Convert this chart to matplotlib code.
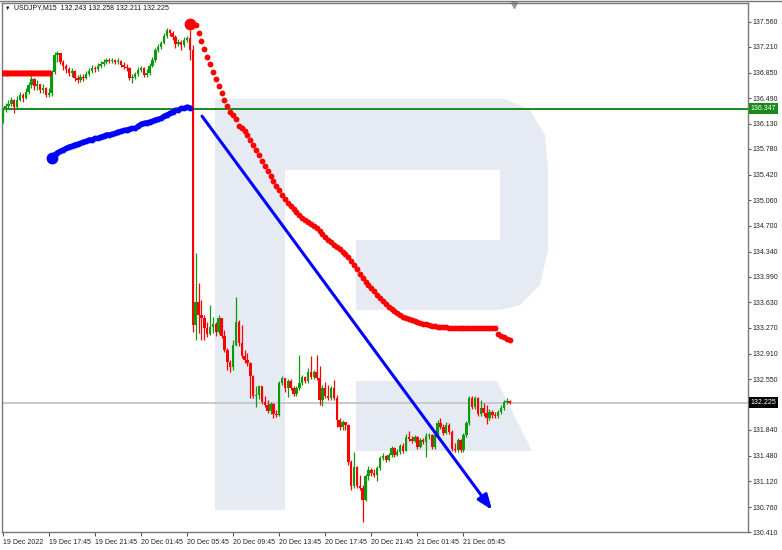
import matplotlib
matplotlib.use("Agg")
import matplotlib.pyplot as plt
from matplotlib.patches import Polygon
from matplotlib.lines import Line2D

# ---------------- data ----------------
symbol_title = "USDJPY,M15  132.243 132.258 132.211 132.225"

opens = [136.17, 136.33, 136.38, 136.41, 136.47, 136.37, 136.47, 136.54, 136.49, 136.58,
         136.68, 136.76, 136.66, 136.69, 136.61, 136.63, 136.54, 136.56, 136.86, 137.10,
         137.13, 137.00, 136.94, 136.90, 136.85, 136.87, 136.77, 136.75, 136.79, 136.77,
         136.83, 136.87, 136.92, 136.90, 136.94, 136.97, 137.00, 137.03, 137.01, 137.03,
         137.00, 137.01, 136.96, 136.93, 136.92, 136.77, 136.79, 136.83, 136.89, 136.92,
         136.82, 136.85, 136.94, 137.03, 137.17, 137.21, 137.27, 137.36, 137.45, 137.40,
         137.35, 137.25, 137.28, 137.24, 137.31, 137.34, 137.17, 133.31, 133.63, 133.45,
         133.41, 133.27, 133.19, 133.28, 133.33, 133.21, 133.41, 133.16, 132.96, 132.79,
         132.72, 133.03, 133.35, 133.06, 132.88, 132.82, 132.78, 132.60, 132.32, 132.33,
         132.45, 132.23, 132.19, 132.11, 132.20, 132.06, 132.05, 132.50, 132.57, 132.43,
         132.53, 132.43, 132.34, 132.43, 132.50, 132.58, 132.53, 132.65, 132.58, 132.65,
         132.57, 132.26, 132.43, 132.32, 132.29, 132.43, 132.29, 131.98, 131.88, 131.95,
         131.91, 131.39, 131.05, 131.32, 131.05, 131.03, 130.86, 131.20, 131.28, 131.24,
         131.21, 131.31, 131.45, 131.48, 131.42, 131.49, 131.59, 131.49, 131.53, 131.62,
         131.55, 131.74, 131.71, 131.69, 131.74, 131.60, 131.70, 131.67, 131.76, 131.77,
         131.60, 131.77, 131.94, 131.88, 131.80, 131.91, 131.81, 131.57, 131.56, 131.70,
         131.56, 131.77, 131.94, 132.29, 132.16, 132.29, 132.06, 132.15, 132.08, 132.01,
         132.09, 132.05, 132.04, 132.09, 132.15, 132.23, 132.243]

closes = [136.33, 136.38, 136.41, 136.47, 136.37, 136.47, 136.54, 136.49, 136.58, 136.68,
          136.76, 136.66, 136.69, 136.61, 136.63, 136.54, 136.56, 136.86, 137.10, 137.13,
          137.00, 136.94, 136.90, 136.85, 136.87, 136.77, 136.75, 136.79, 136.77, 136.83,
          136.87, 136.92, 136.90, 136.94, 136.97, 137.00, 137.03, 137.01, 137.03, 137.00,
          137.01, 136.96, 136.93, 136.92, 136.77, 136.79, 136.83, 136.89, 136.92, 136.82,
          136.85, 136.94, 137.03, 137.17, 137.21, 137.27, 137.36, 137.45, 137.40, 137.35,
          137.25, 137.28, 137.24, 137.31, 137.34, 137.17, 133.31, 133.63, 133.45, 133.41,
          133.27, 133.19, 133.28, 133.33, 133.21, 133.41, 133.16, 132.96, 132.79, 132.72,
          133.03, 133.35, 133.06, 132.88, 132.82, 132.78, 132.60, 132.32, 132.33, 132.45,
          132.23, 132.19, 132.11, 132.20, 132.06, 132.05, 132.50, 132.57, 132.43, 132.53,
          132.43, 132.34, 132.43, 132.50, 132.58, 132.53, 132.65, 132.58, 132.65, 132.57,
          132.26, 132.43, 132.32, 132.29, 132.43, 132.29, 131.98, 131.88, 131.95, 131.91,
          131.39, 131.05, 131.32, 131.05, 131.03, 130.86, 131.20, 131.28, 131.24, 131.21,
          131.31, 131.45, 131.48, 131.42, 131.49, 131.59, 131.49, 131.53, 131.62, 131.55,
          131.74, 131.71, 131.69, 131.74, 131.60, 131.70, 131.67, 131.76, 131.77, 131.60,
          131.77, 131.94, 131.88, 131.80, 131.91, 131.81, 131.57, 131.56, 131.70, 131.56,
          131.77, 131.94, 132.29, 132.16, 132.29, 132.06, 132.15, 132.08, 132.01, 132.09,
          132.05, 132.04, 132.09, 132.15, 132.23, 132.243, 132.225]

highs = [136.37, 136.42, 136.47, 136.51, 136.48, 136.52, 136.58, 136.56, 136.63, 136.72,
         136.80, 136.77, 136.75, 136.69, 136.69, 136.65, 136.63, 136.89, 137.14, 137.15,
         137.13, 137.03, 136.97, 136.93, 136.92, 136.89, 136.82, 136.83, 136.83, 136.87,
         136.92, 136.96, 136.94, 136.99, 137.01, 137.04, 137.06, 137.06, 137.06, 137.04,
         137.06, 137.03, 137.00, 136.97, 136.93, 136.83, 136.86, 136.93, 136.94, 136.93,
         136.90, 136.99, 137.07, 137.20, 137.25, 137.29, 137.40, 137.48, 137.46, 137.43,
         137.38, 137.32, 137.31, 137.35, 137.36, 137.45, 137.24, 134.32, 133.90, 133.66,
         133.45, 133.35, 133.59, 133.42, 133.35, 133.45, 133.41, 133.24, 132.99, 132.82,
         133.10, 133.70, 133.38, 133.31, 132.96, 132.92, 132.79, 132.61, 132.46, 132.47,
         132.46, 132.32, 132.26, 132.23, 132.22, 132.12, 132.53, 132.60, 132.57, 132.55,
         132.55, 132.46, 132.46, 132.89, 132.61, 132.60, 132.71, 132.88, 132.68, 132.89,
         132.74, 132.47, 132.51, 132.47, 132.46, 132.54, 132.33, 132.01, 131.98, 131.94,
         131.93, 131.42, 131.53, 131.34, 131.21, 131.07, 131.22, 131.34, 131.31, 131.29,
         131.34, 131.48, 131.52, 131.49, 131.52, 131.62, 131.60, 131.57, 131.64, 131.66,
         131.79, 131.83, 131.76, 131.77, 131.76, 131.73, 131.73, 131.80, 131.80, 131.79,
         131.80, 131.98, 132.01, 131.93, 131.95, 131.94, 131.84, 131.66, 131.73, 131.71,
         131.80, 131.97, 132.32, 132.32, 132.32, 132.30, 132.26, 132.22, 132.19, 132.13,
         132.12, 132.09, 132.12, 132.19, 132.26, 132.29, 132.258]

lows = [136.14, 136.30, 136.35, 136.38, 136.28, 136.35, 136.45, 136.44, 136.48, 136.55,
        136.63, 136.61, 136.61, 136.56, 136.56, 136.51, 136.51, 136.52, 136.83, 137.00,
        136.97, 136.89, 136.85, 136.80, 136.79, 136.73, 136.70, 136.72, 136.73, 136.76,
        136.80, 136.85, 136.86, 136.87, 136.92, 136.94, 136.97, 136.99, 136.99, 136.97,
        136.97, 136.93, 136.90, 136.87, 136.75, 136.70, 136.76, 136.80, 136.86, 136.79,
        136.79, 136.82, 136.93, 137.00, 137.14, 137.18, 137.25, 137.34, 137.36, 137.31,
        137.20, 137.22, 137.17, 137.21, 137.28, 137.03, 133.21, 133.10, 133.20, 133.10,
        133.10, 133.14, 133.17, 133.20, 133.16, 133.19, 133.13, 132.93, 132.68, 132.65,
        132.68, 133.02, 133.02, 132.85, 132.78, 132.74, 132.29, 132.29, 132.16, 132.27,
        132.20, 132.16, 132.08, 132.06, 132.01, 132.02, 132.04, 132.47, 132.37, 132.30,
        132.40, 132.32, 132.32, 132.40, 132.47, 132.50, 132.50, 132.55, 132.55, 132.54,
        132.19, 132.18, 132.29, 132.26, 132.26, 132.26, 131.88, 131.84, 131.84, 131.84,
        131.35, 131.00, 131.03, 131.03, 131.00, 130.55, 130.84, 131.14, 131.20, 131.18,
        131.12, 131.28, 131.42, 131.39, 131.41, 131.46, 131.46, 131.48, 131.50, 131.52,
        131.55, 131.69, 131.66, 131.67, 131.57, 131.59, 131.64, 131.46, 131.71, 131.57,
        131.57, 131.74, 131.85, 131.77, 131.79, 131.79, 131.55, 131.53, 131.53, 131.53,
        131.53, 131.74, 131.91, 132.13, 132.13, 132.04, 132.04, 132.04, 131.93, 131.98,
        132.01, 132.01, 132.01, 132.06, 132.12, 132.20, 132.211]

# red level line on the left (bars 0..16)
red_level_bars = list(range(0, 17))
red_level_value = 136.85

# blue indicator curve (bars 17..65)
blue_start_bar = 17
blue_curve = [135.65, 135.70, 135.73, 135.75, 135.77, 135.79, 135.81, 135.82, 135.84, 135.85,
              135.86, 135.88, 135.89, 135.91, 135.91, 135.93, 135.93, 135.95, 135.96, 135.98,
              135.98, 135.99, 136.00, 136.02, 136.03, 136.04, 136.05, 136.06, 136.07, 136.07,
              136.10, 136.13, 136.14, 136.15, 136.16, 136.17, 136.19, 136.20, 136.21, 136.24,
              136.26, 136.28, 136.30, 136.32, 136.33, 136.35, 136.35, 136.37, 136.36]

# red dotted indicator curve (bars 65..176)
red_start_bar = 65
red_curve = [137.53, 137.53, 137.52, 137.40, 137.29, 137.18, 137.07, 136.97, 136.86, 136.76,
             136.66, 136.56, 136.47, 136.38, 136.30, 136.26, 136.20, 136.10, 136.07, 136.03,
             135.98, 135.91, 135.84, 135.77, 135.70, 135.61, 135.54, 135.47, 135.40, 135.33,
             135.26, 135.20, 135.13, 135.08, 135.02, 134.98, 134.94, 134.90, 134.85, 134.81,
             134.78, 134.76, 134.73, 134.70, 134.67, 134.63, 134.59, 134.54, 134.50, 134.47,
             134.44, 134.41, 134.38, 134.34, 134.31, 134.27, 134.21, 134.15, 134.10, 134.03,
             133.97, 133.91, 133.87, 133.83, 133.79, 133.73, 133.69, 133.65, 133.61, 133.56,
             133.54, 133.51, 133.48, 133.45, 133.42, 133.41, 133.40, 133.38, 133.37, 133.35,
             133.34, 133.33, 133.32, 133.31, 133.30, 133.30, 133.29, 133.28, 133.28, 133.28,
             133.27, 133.27, 133.27, 133.27, 133.27, 133.27, 133.27, 133.27, 133.27, 133.27,
             133.27, 133.27, 133.27, 133.27, 133.27, 133.27, 133.27, 133.19, 133.16, 133.14,
             133.12, 133.10]

# trend arrow (bar index, price)
trend_bars = [69.2, 169.9]
trend_prices = [136.24, 130.72]

green_level = 136.347
current_price = 132.225

y_ticks = [137.560, 137.210, 136.850, 136.490, 136.130, 135.780, 135.420, 135.060, 134.700,
           134.340, 133.990, 133.630, 133.270, 132.910, 132.550, 131.840, 131.480, 131.120,
           130.760, 130.410]
x_tick_bars = [0, 16, 32, 48, 64, 80, 96, 112, 128, 144, 160]
x_tick_labels = ["19 Dec 2022", "19 Dec 17:45", "19 Dec 21:45", "20 Dec 01:45", "20 Dec 05:45",
                 "20 Dec 09:45", "20 Dec 13:45", "20 Dec 17:45", "20 Dec 21:45", "21 Dec 01:45",
                 "21 Dec 05:45"]

# ---------------- styling ----------------
plt.rcParams['font.family'] = ['Liberation Sans', 'DejaVu Sans']
UP = '#0A9A0A'
DN = '#FF0000'
FS = 5.0

W, H = 782, 550
fig = plt.figure(figsize=(W / 100, H / 100), dpi=100)
fig.patch.set_facecolor('white')

# watermark layer (pixel space)
bg = fig.add_axes([0, 0, 1, 1], zorder=0)
bg.set_xlim(0, W)
bg.set_ylim(H, 0)
bg.axis('off')
wm = '#E6EBF3'
shapes = [
    [(215, 99), (285, 99), (285, 510), (215, 510)],
    [(285, 99), (505, 99), (530, 110), (545, 135), (548, 170), (285, 170)],
    [(500, 170), (548, 170), (548, 250), (540, 285), (520, 305), (500, 310)],
    [(356, 240), (500, 240), (500, 310), (356, 310)],
    [(356, 381), (497, 381), (532, 451), (356, 451)],
]
for s in shapes:
    bg.add_patch(Polygon(s, closed=True, fc=wm, ec='none'))

# main axes
L, R, T, B = 2, 748, 3, 532
ax = fig.add_axes([L / W, 1 - B / H, (R - L) / W, (B - T) / H], zorder=1)
ax.patch.set_alpha(0)
px_per_bar = 2.88
x0 = (L - 2.7) / px_per_bar
ax.set_xlim(x0, x0 + (R - L) / px_per_bar)
ax.set_ylim(130.41, 137.826)

n = len(closes)
idx = list(range(n))
# candles
for i in idx:
    o, c, h, l = opens[i], closes[i], highs[i], lows[i]
    col = UP if c >= o else DN
    ax.vlines(i, l, h, color=col, lw=0.9, zorder=3)
    ax.bar(i, max(abs(c - o), 0.014), bottom=min(o, c), width=0.85, color=col,
           lw=0, zorder=4)

# lines
ax.axhline(green_level, color='#1A8A1A', lw=1.4, zorder=2)
ax.axhline(current_price, color='#C8C8C8', lw=1.4, zorder=2)

ax.plot(red_level_bars, [red_level_value] * len(red_level_bars), color=DN, lw=3.2,
        marker='o', ms=3.4, zorder=5)

bx = [blue_start_bar + k for k in range(len(blue_curve))]
ax.plot(bx, blue_curve, color='#0000FF', lw=3.4, marker='o', ms=3.2, zorder=5,
        solid_capstyle='round')
ax.plot(bx[0], blue_curve[0], 'o', color='#0000FF', ms=7.5, zorder=6)

rx = [red_start_bar + k for k in range(len(red_curve))]
ax.plot(rx, red_curve, ls='none', marker='o', ms=4.2, color=DN, mec='none', zorder=5)
ax.plot(rx[0], red_curve[0], 'o', color=DN, ms=8.5, mec='none', zorder=6)

ax.annotate('', xy=(trend_bars[1], trend_prices[1]), xytext=(trend_bars[0], trend_prices[0]),
            arrowprops=dict(arrowstyle='-|>,head_length=0.9,head_width=0.35',
                            color='#0000FF', lw=2.2, shrinkA=0, shrinkB=0), zorder=5)

# axes styling
for sp in ax.spines.values():
    sp.set_color('#777777')
    sp.set_linewidth(1.0)
ax.yaxis.tick_right()
ax.set_yticks(y_ticks)
ax.set_yticklabels([f"{v:.3f}" for v in y_ticks])
ax.tick_params(axis='y', length=2, width=0.8, pad=1.5, labelsize=FS, colors='#555555',
               labelcolor='#222222')
ax.set_xticks(x_tick_bars)
ax.set_xticklabels(x_tick_labels, ha='left')
ax.tick_params(axis='x', length=3, width=0.8, pad=2, labelsize=FS, colors='#555555',
               labelcolor='#222222')

# price labels on the axis
ax.annotate(f"{green_level:.3f}", xy=(1.0, green_level), xycoords=('axes fraction', 'data'),
            xytext=(2, 0), textcoords='offset points', va='center', ha='left',
            fontsize=FS, color='white',
            bbox=dict(boxstyle='square,pad=0.25', fc='#1A8A1A', ec='none'), zorder=10,
            annotation_clip=False)
ax.annotate(f"{current_price:.3f}", xy=(1.0, current_price), xycoords=('axes fraction', 'data'),
            xytext=(2, 0), textcoords='offset points', va='center', ha='left',
            fontsize=FS, color='white',
            bbox=dict(boxstyle='square,pad=0.25', fc='black', ec='none'), zorder=10,
            annotation_clip=False)

# title and decorations
fig.text(5 / W, 1 - 8 / H, '\u25BC', fontsize=4, color='#111111', va='center', ha='left')
fig.text(14 / W, 1 - 8 / H, symbol_title, fontsize=FS, color='#111111', va='center', ha='left')
fig.add_artist(Line2D([0, 1], [1 - 0.8 / H, 1 - 0.8 / H], color='#777777', lw=1.0))
bg.plot([514], [5], marker='v', color='#999999', ms=4, zorder=3)

fig.savefig('out.png', dpi=100, facecolor='white')
